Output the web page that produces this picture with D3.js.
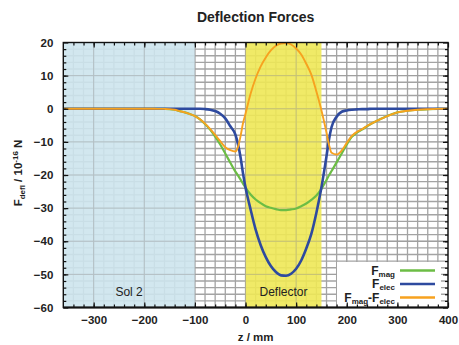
<!DOCTYPE html>
<html>
<head>
<meta charset="utf-8">
<script src="https://cdn.jsdelivr.net/npm/d3@7"></script>
<style>
  body { margin: 0; background: #fff; }
  svg { font-family: "Liberation Sans", Arial, sans-serif; }
</style>
</head>
<body>
<svg width="459" height="345"></svg>
<script>
var zVals = [-360, -300, -250, -200, -180, -160, -150, -140, -130, -120, -110, -100, -90, -80, -70, -60, -50, -40, -30, -20, -15, -10, -5, 0,
  10, 20, 30, 40, 50, 60, 70, 80, 90, 100, 110, 120, 130, 140, 150, 160, 165, 170, 180, 190, 200, 210, 220, 230, 240, 250,
  260, 270, 280, 290, 300, 320, 340, 360, 380, 400];

var magVals = [0, 0, 0, 0, -0.02, -0.05, -0.1, -0.3, -0.7, -1.1, -1.6, -2.2, -3.2, -4.6, -6.3, -8.4, -10.8, -13.5, -16.3, -19.0, -20.1, -21.3, -22.6, -23.8,
  -25.9, -27.4, -28.5, -29.4, -29.9, -30.3, -30.6, -30.6, -30.4, -30.1, -29.4, -28.6, -27.5, -26.2, -24.2, -21.5, -20.1, -18.8, -16.2, -13.5, -10.8, -8.5, -7.2, -6.3, -5.3, -4.4,
  -3.6, -2.9, -2.2, -1.6, -1.1, -0.6, -0.3, -0.15, -0.05, 0];

var elecVals = [0, 0, 0, 0, 0, 0, 0, 0, 0, 0, 0, 0, 0, -0.1, -0.3, -0.7, -1.5, -2.9, -5.3, -7.8, -10.6, -14.5, -19.5, -23.8,
  -30.4, -36.5, -41.2, -44.8, -47.5, -49.3, -50.3, -50.4, -49.8, -48.3, -45.8, -42.2, -37.8, -31.4, -23.7, -14.3, -9.2, -5.5, -2.4, -0.9, -0.5, -0.3, -0.2, -0.1, -0.1, 0,
  0, 0, 0, 0, 0, 0, 0, 0, 0, 0];

var diffVals = [0, 0, 0, 0, -0.02, -0.05, -0.1, -0.3, -0.7, -1.1, -1.6, -2.2, -3.2, -4.5, -6.1, -7.9, -9.8, -11.6, -12.5, -12.9, -11.6, -8.4, -4.4, -1.5,
  4.5, 9.2, 12.8, 15.5, 17.6, 19.0, 19.7, 19.8, 19.4, 18.2, 16.4, 13.6, 10.3, 5.2, -0.5, -7.2, -10.9, -13.3, -13.8, -12.6, -10.3, -8.2, -7.0, -6.2, -5.2, -4.4,
  -3.6, -2.9, -2.2, -1.6, -1.1, -0.6, -0.3, -0.15, -0.05, 0];

var xTicks = [-300, -200, -100, 0, 100, 200, 300, 400];
var yTicks = [-60, -50, -40, -30, -20, -10, 0, 10, 20];

// shaded regions
var regions = [
  { from: -360, to: -100, label: "Sol 2", color: "#cde4ed" },
  { from: 0, to: 150, label: "Deflector", color: "#eee857" }
];

document.addEventListener('DOMContentLoaded', function() {
  var svg = d3.select("svg");
  var left = 63.3, right = 448, top = 42.5, bottom = 307.5;

  var x = d3.scaleLinear().domain([-360, 400]).range([left, right]);
  var y = d3.scaleLinear().domain([-60, 20]).range([bottom, top]);

  svg.append("clipPath").attr("id", "plot")
    .append("rect").attr("x", left).attr("y", top)
    .attr("width", right - left).attr("height", bottom - top);

  // grid
  var grid = svg.append("g").attr("stroke", "#a3a3a3").attr("stroke-width", 1.3);
  grid.selectAll(".vg").data(d3.range(-340, 400, 20)).enter().append("line")
    .attr("x1", function(d) { return x(d); }).attr("x2", function(d) { return x(d); })
    .attr("y1", top).attr("y2", bottom);
  grid.selectAll(".hg").data(d3.range(-58, 20, 2)).enter().append("line")
    .attr("y1", function(d) { return y(d); }).attr("y2", function(d) { return y(d); })
    .attr("x1", left).attr("x2", right);

  // regions
  svg.selectAll(".region").data(regions).enter().append("rect")
    .attr("x", function(d) { return x(d.from); })
    .attr("width", function(d) { return x(d.to) - x(d.from); })
    .attr("y", top).attr("height", bottom - top)
    .attr("fill", function(d) { return d.color; })
    .attr("opacity", 0.9);

  // major grid shows through the shading
  var major = svg.append("g").attr("stroke", "#9a9a9a").attr("stroke-width", 1).attr("opacity", 0.45);
  major.selectAll("line.v").data(xTicks).enter().append("line")
    .attr("x1", function(d) { return x(d); }).attr("x2", function(d) { return x(d); })
    .attr("y1", top).attr("y2", bottom);
  major.selectAll("line.h").data(yTicks).enter().append("line")
    .attr("y1", function(d) { return y(d); }).attr("y2", function(d) { return y(d); })
    .attr("x1", left).attr("x2", right);

  svg.selectAll(".rlabel").data(regions).enter().append("text")
    .attr("x", function(d) { return (x(d.from) + x(d.to)) / 2; })
    .attr("y", 296)
    .attr("text-anchor", "middle")
    .attr("font-size", "12px")
    .attr("fill", "#222")
    .text(function(d) { return d.label; });

  // legend background
  svg.append("rect").attr("x", 337).attr("y", 262).attr("width", 104).attr("height", bottom - 262).attr("fill", "#fff");

  // curves
  var series = [
    { name: "mag", vals: magVals, color: "#6cbd45", w: 2.2 },
    { name: "elec", vals: elecVals, color: "#2e4a9f", w: 2.6 },
    { name: "diff", vals: diffVals, color: "#f7a21f", w: 1.9 }
  ];
  var line = d3.line()
    .x(function(d) { return x(d[0]); })
    .y(function(d) { return y(d[1]); })
    .curve(d3.curveMonotoneX);

  svg.append("g").attr("clip-path", "url(#plot)")
    .selectAll("path").data(series).enter().append("path")
    .attr("fill", "none")
    .attr("stroke", function(d) { return d.color; })
    .attr("stroke-width", function(d) { return d.w; })
    .attr("d", function(d) { return line(zVals.map(function(z, i) { return [z, d.vals[i]]; })); });

  // axes, ticks pointing inward
  function styleAxis(g) {
    g.select(".domain").remove();
    g.selectAll("line").attr("stroke", "#111").attr("stroke-width", 1.2);
    g.selectAll("text").attr("font-size", "11.5px").attr("font-weight", "bold").attr("fill", "#222")
      .attr("font-family", "Liberation Sans, Arial, sans-serif");
  }
  var xMinor = d3.range(-340, 400, 20), yMinor = d3.range(-58, 20, 2);

  svg.append("g").attr("transform", "translate(0," + bottom + ")")
    .call(d3.axisBottom(x).tickValues(xTicks).tickSizeInner(-5).tickSizeOuter(0).tickPadding(8)).call(styleAxis);
  svg.append("g").attr("transform", "translate(0," + bottom + ")")
    .call(d3.axisBottom(x).tickValues(xMinor).tickSize(-3).tickFormat("")).call(styleAxis);
  svg.append("g").attr("transform", "translate(0," + top + ")")
    .call(d3.axisTop(x).tickValues(xTicks).tickSize(-5).tickFormat("")).call(styleAxis);
  svg.append("g").attr("transform", "translate(0," + top + ")")
    .call(d3.axisTop(x).tickValues(xMinor).tickSize(-3).tickFormat("")).call(styleAxis);

  svg.append("g").attr("transform", "translate(" + left + ",0)")
    .call(d3.axisLeft(y).tickValues(yTicks).tickSizeInner(-5).tickSizeOuter(0).tickPadding(10)).call(styleAxis);
  svg.append("g").attr("transform", "translate(" + left + ",0)")
    .call(d3.axisLeft(y).tickValues(yMinor).tickSize(-3).tickFormat("")).call(styleAxis);
  svg.append("g").attr("transform", "translate(" + right + ",0)")
    .call(d3.axisRight(y).tickValues(yTicks).tickSize(-5).tickFormat("")).call(styleAxis);
  svg.append("g").attr("transform", "translate(" + right + ",0)")
    .call(d3.axisRight(y).tickValues(yMinor).tickSize(-3).tickFormat("")).call(styleAxis);

  // frame
  svg.append("rect").attr("x", left).attr("y", top).attr("width", right - left).attr("height", bottom - top)
    .attr("fill", "none").attr("stroke", "#111").attr("stroke-width", 1.4);
  svg.append("line").attr("x1", left).attr("x2", right).attr("y1", bottom).attr("y2", bottom)
    .attr("stroke", "#111").attr("stroke-width", 2.2);

  // title + axis labels
  svg.append("text").attr("x", (left + right) / 2).attr("y", 22).attr("text-anchor", "middle")
    .attr("font-size", "14px").attr("font-weight", "bold").attr("fill", "#222").text("Deflection Forces");

  svg.append("text").attr("x", (left + right) / 2).attr("y", 341).attr("text-anchor", "middle")
    .attr("font-size", "11.5px").attr("font-weight", "bold").attr("fill", "#222").text("z / mm");

  var yl = svg.append("text").attr("transform", "translate(22,173) rotate(-90)")
    .attr("text-anchor", "middle").attr("font-size", "11.5px").attr("font-weight", "bold").attr("fill", "#222");
  yl.append("tspan").text("F");
  yl.append("tspan").attr("font-size", "8px").attr("dy", 3).text("defl");
  yl.append("tspan").attr("dy", -3).text(" / 10");
  yl.append("tspan").attr("font-size", "8px").attr("dy", -4).text("-16");
  yl.append("tspan").attr("dy", 4).text(" N");

  // legend
  var legendRows = [
    { parts: [["F", ""], ["mag", "sub"]], color: series[0].color, y: 270.5 },
    { parts: [["F", ""], ["elec", "sub"]], color: series[1].color, y: 284 },
    { parts: [["F", ""], ["mag", "sub"], ["-F", ""], ["elec", "sub"]], color: series[2].color, y: 297.5 }
  ];
  legendRows.forEach(function(r) {
    var t = svg.append("text").attr("x", 395).attr("y", r.y + 4).attr("text-anchor", "end")
      .attr("font-size", "12px").attr("font-weight", "bold").attr("fill", "#222");
    var shift = 0;
    r.parts.forEach(function(p) {
      var sp = t.append("tspan").text(p[0]);
      if (p[1] == "sub") { sp.attr("font-size", "8px").attr("dy", 2 - shift); shift = 2; }
      else { sp.attr("dy", -shift); shift = 0; }
    });
    svg.append("line").attr("x1", 400).attr("x2", 435).attr("y1", r.y).attr("y2", r.y)
      .attr("stroke", r.color).attr("stroke-width", 2.5);
  });
});
</script>
</body>
</html>
